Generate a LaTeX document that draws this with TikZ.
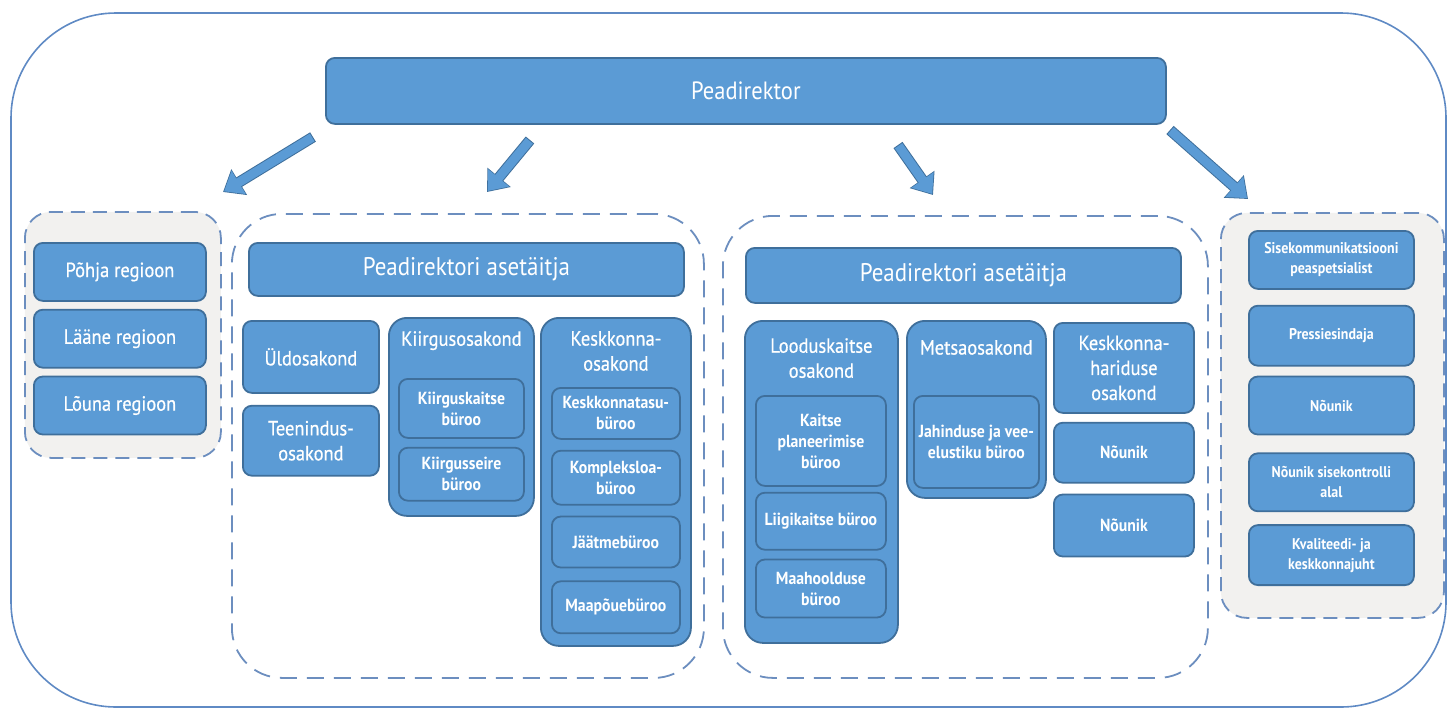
\documentclass[tikz,border=0pt]{standalone}
\usepackage{fontspec}
\setmainfont{PT Sans}[FakeStretch=0.9]
\usepackage{tikz}
\usetikzlibrary{positioning}
\usetikzlibrary{arrows.meta}

\definecolor{boxfill}{HTML}{5B9BD5}
\definecolor{boxline}{HTML}{3F6F9B}
\definecolor{dashline}{HTML}{6C8EBF}
\definecolor{groupfill}{HTML}{F2F1EF}
\definecolor{framecol}{HTML}{5F8AC4}

\tikzset{
    unit/.style={draw=boxline, fill=boxfill, line width=1.8pt, rounded corners=9pt,
        text=white, align=center, inner sep=2pt, anchor=north west},
    bigunit/.style={unit, rounded corners=18pt},
    graygroup/.style={draw=dashline, fill=groupfill, line width=1.8pt, dash pattern=on 14pt off 8pt,
        rounded corners=26pt, anchor=north west, inner sep=0pt},
    whitegroup/.style={graygroup, fill=white, dash pattern=on 17pt off 10pt, rounded corners=50pt},
    title/.style={text=white, align=center, inner sep=0pt},
    fontboss/.style={font=\fontsize{25}{30}\selectfont},
    fontdeputy/.style={font=\fontsize{25.5}{30}\selectfont},
    fontdept/.style={font=\fontsize{20.5}{25}\selectfont\addfontfeatures{FakeBold=0.6}},
    fontsmall/.style={font=\fontsize{17.5}{21}\selectfont\bfseries},
    fontside/.style={font=\fontsize{15.5}{20}\selectfont\bfseries},
    arrowrim/.style={draw=boxline, line width=11pt, -{Triangle[length=19pt,width=29pt]}},
    arrowbody/.style={draw=boxfill, line width=9pt, shorten >=1.3pt, shorten <=1pt,
        -{Triangle[length=17pt,width=26pt]}},
}

\begin{document}
\begin{tikzpicture}[x=1pt, y=-1pt]
    \useasboundingbox (0,0) rectangle (1447,710);

    %outer frame
    \draw[framecol, line width=1.6pt, rounded corners=105pt] (11,13) rectangle (1446,707);

    %-------------------------------------------
    %Top
    \node[unit, fontboss, minimum width=840pt, minimum height=66pt] (Boss) at (325,57) {Peadirektor};

    %-------------------------------------------
    %Regions
    \node[graygroup, minimum width=196pt, minimum height=246pt] (RegionGroup) at (24,211) {};

    \node[unit, fontdept, minimum width=172pt, minimum height=58pt] (Pohja) at (33,242) {Põhja regioon};
    \node[unit, fontdept, minimum width=172pt, minimum height=58pt, below = 7pt of Pohja] (Laane) {Lääne regioon};
    \node[unit, fontdept, minimum width=172pt, minimum height=58pt, below = 7pt of Laane] (Louna) {Lõuna regioon};

    %-------------------------------------------
    %First deputy
    \node[whitegroup, minimum width=472pt, minimum height=464pt] (DeputyOneGroup) at (231,213) {};

    \node[unit, fontdeputy, minimum width=435pt, minimum height=53pt] (DeputyOne) at (248,242) {Peadirektori asetäitja};

    \node[unit, fontdept, minimum width=136pt, minimum height=72pt] (Yld) at (242,320) {Üldosakond};
    \node[unit, fontdept, minimum width=136pt, minimum height=70pt, below = 11pt of Yld] (Teenindus) {Teenindus-\\osakond};

    \node[bigunit, minimum width=145pt, minimum height=198pt] (Kiirg) at (388,317) {};
    \node[title, fontdept, below = 14pt of Kiirg.north] (KiirgTitle) {Kiirgusosakond};
    \node[unit, fontsmall, minimum width=125pt, minimum height=59pt] (KiirgKaitse) at (398,378) {Kiirguskaitse\\büroo};
    \node[unit, fontsmall, minimum width=125pt, minimum height=53pt, below = 8pt of KiirgKaitse] (KiirgSeire) {Kiirgusseire\\büroo};

    \node[bigunit, minimum width=150pt, minimum height=328pt] (Kesk) at (540,317) {};
    \node[title, fontdept, below = 14pt of Kesk.north] (KeskTitle) {Keskkonna-\\osakond};
    \node[unit, fontsmall, minimum width=128pt, minimum height=51pt] (KeskTasu) at (551,387) {Keskkonnatasu-\\büroo};
    \node[unit, fontsmall, minimum width=128pt, minimum height=54pt, below = 10pt of KeskTasu] (Kompleks) {Kompleksloa-\\büroo};
    \node[unit, fontsmall, minimum width=128pt, minimum height=51pt, below = 10pt of Kompleks] (Jaatme) {Jäätmebüroo};
    \node[unit, fontsmall, minimum width=128pt, minimum height=52pt, below = 12pt of Jaatme] (Maapoue) {Maapõuebüroo};

    %-------------------------------------------
    %Second deputy
    \node[whitegroup, minimum width=485pt, minimum height=462pt] (DeputyTwoGroup) at (722,215) {};

    \node[unit, fontdeputy, minimum width=435pt, minimum height=55pt] (DeputyTwo) at (745,247) {Peadirektori asetäitja};

    \node[bigunit, minimum width=153pt, minimum height=322pt] (Loodus) at (744,320) {};
    \node[title, fontdept, below = 18pt of Loodus.north] (LoodusTitle) {Looduskaitse\\osakond};
    \node[unit, fontsmall, minimum width=130pt, minimum height=90pt] (KaitsePlan) at (755,395) {Kaitse\\planeerimise\\büroo};
    \node[unit, fontsmall, minimum width=130pt, minimum height=57pt, below = 5pt of KaitsePlan] (Liigi) {Liigikaitse büroo};
    \node[unit, fontsmall, minimum width=130pt, minimum height=58pt, below = 8pt of Liigi] (Maahooldus) {Maahoolduse\\büroo};

    \node[bigunit, minimum width=139pt, minimum height=177pt] (Mets) at (906,320) {};
    \node[title, fontdept, below = 20pt of Mets.north] (MetsTitle) {Metsaosakond};
    \node[unit, fontsmall, minimum width=125pt, minimum height=92pt] (Jahindus) at (913,395) {Jahinduse ja vee-\\elustiku büroo};

    \node[unit, fontdept, minimum width=140pt, minimum height=90pt] (Haridus) at (1053,322) {Keskkonna-\\hariduse\\osakond};
    \node[unit, fontsmall, minimum width=140pt, minimum height=60pt, below = 8pt of Haridus] (NounikOne) {Nõunik};
    \node[unit, fontsmall, minimum width=140pt, minimum height=62pt, below = 10pt of NounikOne] (NounikTwo) {Nõunik};

    %-------------------------------------------
    %Advisers
    \node[graygroup, minimum width=223pt, minimum height=405pt] (AdviserGroup) at (1220,212) {};

    \node[unit, fontside, minimum width=165pt, minimum height=58pt] (Sise) at (1248,230) {Sisekommunikatsiooni\\peaspetsialist};
    \node[unit, fontside, minimum width=165pt, minimum height=60pt, below = 15pt of Sise] (Press) {Pressiesindaja};
    \node[unit, fontside, minimum width=165pt, minimum height=58pt, below = 9pt of Press] (NounikThree) {Nõunik};
    \node[unit, fontside, minimum width=165pt, minimum height=58pt, below = 17pt of NounikThree] (NounikSise) {Nõunik sisekontrolli\\alal};
    \node[unit, fontside, minimum width=165pt, minimum height=60pt, below = 12pt of NounikSise] (Kvaliteet) {Kvaliteedi- ja\\keskkonnajuht};

    %-------------------------------------------
    %Arrows
    \coordinate (ArrowOneTail) at (313,137);
    \coordinate (ArrowOneTip) at (223,192);
    \coordinate (ArrowTwoTail) at (530,140);
    \coordinate (ArrowTwoTip) at (487,192);
    \coordinate (ArrowThreeTail) at (898,145);
    \coordinate (ArrowThreeTip) at (933,195);
    \coordinate (ArrowFourTail) at (1170,130);
    \coordinate (ArrowFourTip) at (1248,199);

    \foreach \from/\to in {ArrowOneTail/ArrowOneTip, ArrowTwoTail/ArrowTwoTip,
                           ArrowThreeTail/ArrowThreeTip, ArrowFourTail/ArrowFourTip}{
        \draw[arrowrim] (\from) -- (\to);
        \draw[arrowbody] (\from) -- (\to);
    }

\end{tikzpicture}
\end{document}
